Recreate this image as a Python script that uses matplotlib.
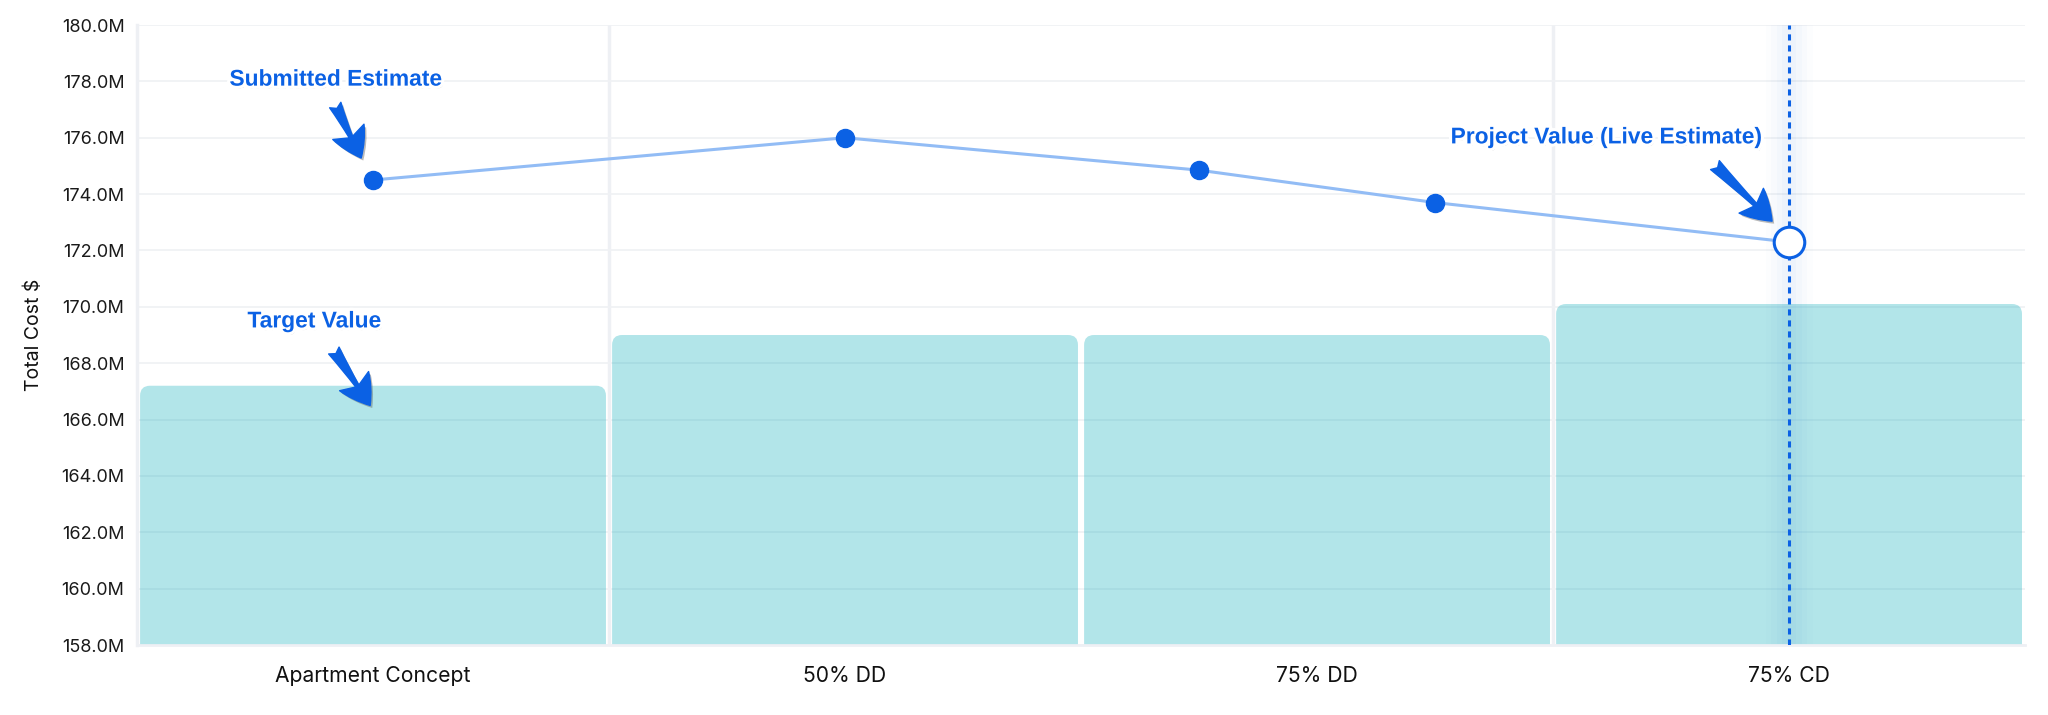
import matplotlib
matplotlib.use("Agg")
import matplotlib.pyplot as plt
import matplotlib.patheffects as pe
from matplotlib.patches import FancyBboxPatch
from matplotlib.ticker import MultipleLocator, FuncFormatter

# Target values per phase (M$)
phases = ["Apartment Concept", "50% DD", "75% DD", "75% CD"]
target_values = [167.2, 169.0, 169.0, 170.1]

# Submitted estimates over time (x in phase units), last one is the live estimate
estimate_x = [0.0, 1.0, 1.75, 2.25, 3.0]
estimate_values = [174.5, 176.0, 174.85, 173.7, 172.3]

ylim = (158, 180)
blue = "#0b61e4"
line_blue = "#92bcf5"
bar_color = "#00a9b8"
grid_color = "#eef0f4"

plt.rcParams["font.family"] = ["Inter", "DejaVu Sans"]

fig = plt.figure(figsize=(20.48, 7.15), dpi=100)
ax = fig.add_axes([0.0669, 0.0979, 0.9219, 0.8671])
ax.set_axisbelow(True)

ax.set_ylim(*ylim)
ax.set_xlim(-0.5, len(phases) - 0.5)

# grid
ax.yaxis.set_major_locator(MultipleLocator(2))
ax.yaxis.set_major_formatter(FuncFormatter(lambda v, _: f"{v:.1f}M"))
ax.grid(axis="y", color="#f0f2f5", lw=1.3)
for xv in [0.5, 2.5]:
    ax.axvline(xv, color=grid_color, lw=2.5, zorder=0)

# bars with rounded tops
bars = ax.bar(range(len(phases)), target_values, width=0.987, color="none")
aspect = (472 / 28.18)
for b in bars:
    x0, w, top = b.get_x(), b.get_width(), b.get_height()
    b.remove()
    p = FancyBboxPatch((x0, ylim[0] - 5), w, top - ylim[0] + 5,
                       boxstyle="round,pad=0,rounding_size=0.021",
                       mutation_aspect=aspect, facecolor=bar_color,
                       alpha=0.3, edgecolor="none", zorder=1)
    ax.add_patch(p)

# live estimate marker line with soft glow
xl = estimate_x[-1]
for lw, a in [(34, 0.012), (26, 0.015), (18, 0.02), (10, 0.025)]:
    ax.axvline(xl, color=blue, lw=lw, alpha=a, zorder=2, solid_capstyle="butt")
ax.axvline(xl, color=blue, lw=2.2, ls=(0, (2, 1.6)), zorder=3)

# estimate line
ax.plot(estimate_x, estimate_values, color=line_blue, lw=2.2, zorder=4)
ax.plot(estimate_x[:-1], estimate_values[:-1], "o", color=blue, ms=13, zorder=5)
ax.plot(estimate_x[-1:], estimate_values[-1:], "o", mfc="white", mec=blue,
        mew=2.2, ms=22, zorder=6)

# axes styling
for s in ["top", "right"]:
    ax.spines[s].set_visible(False)
ax.spines["left"].set_color(grid_color)
ax.spines["left"].set_linewidth(2.5)
ax.spines["bottom"].set_color(grid_color)
ax.spines["bottom"].set_linewidth(2)
ax.set_xticks(range(len(phases)))
ax.set_xticklabels(phases, fontsize=15.2, color="#111111")
ax.tick_params(axis="x", length=0, pad=15)
ax.tick_params(axis="y", length=0, pad=9, labelsize=13, labelcolor="#1a1a1a")
ax.set_ylabel("Total Cost $", fontsize=14, color="#111111", labelpad=13)

# callouts
txt_fx = [pe.SimplePatchShadow(offset=(1.2, -1.8), shadow_rgbFace="#666666", alpha=0.45),
          pe.Stroke(linewidth=4.5, foreground="white"), pe.Normal()]
arr_fx = [pe.SimplePatchShadow(offset=(1.5, -1.8), shadow_rgbFace="#555555", alpha=0.4),
          pe.Normal()]
callouts = [
    ("Submitted Estimate", (-0.08, 178.08), (-0.08, 177.16), (-0.025, 175.28)),
    ("Target Value", (-0.125, 169.5), (-0.083, 168.45), (-0.006, 166.5)),
    ("Project Value (Live Estimate)", (2.612, 176.03), (2.843, 175.03), (2.964, 173.04)),
]
for label, tpos, start, end in callouts:
    ax.text(*tpos, label, ha="center", va="center", fontsize=16.4, fontweight="bold",
            family=["Liberation Sans", "DejaVu Sans"], color=blue,
            path_effects=txt_fx, zorder=8)
    ax.annotate("", xy=end, xytext=start, zorder=8,
                arrowprops=dict(arrowstyle="fancy,head_length=1.05,head_width=1.25,tail_width=0.45",
                                color=blue, shrinkA=0, shrinkB=0, mutation_scale=20,
                                path_effects=arr_fx))

fig.savefig("out.png", dpi=100, facecolor="white")
